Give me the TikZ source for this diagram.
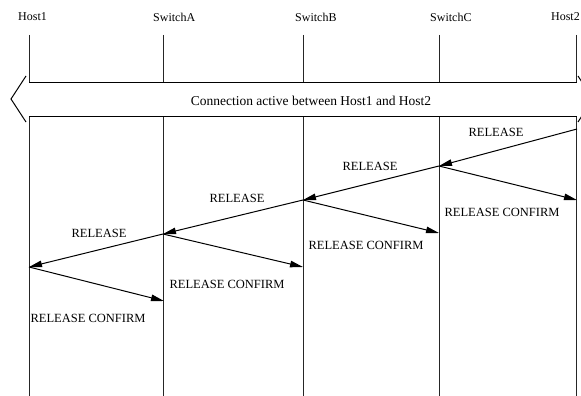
\documentclass[tikz,border=0pt]{standalone}
\usepackage{fontspec}
\setmainfont{Liberation Serif}
\usetikzlibrary{arrows.meta}
\begin{document}
\begin{tikzpicture}[x=1pt,y=-1pt,
  lbl/.style={font=\fontsize{12.5}{14}\selectfont, inner sep=0pt},
  hdr/.style={font=\fontsize{12}{14}\selectfont, inner sep=0pt, anchor=west},
  life/.style={line width=1pt, draw=black!85},
  msg/.style={line width=1pt, -{Triangle[length=13pt,width=6.5pt]}},
  band/.style={line width=1pt}]
\clip (0,0) rectangle (581,396);
\fill[white] (0,0) rectangle (581,396);
% headers
\node[hdr] (h1) at (18,17) {Host1};
\node[hdr] (ha) at (153,17) {SwitchA};
\node[hdr] (hb) at (295,17) {SwitchB};
\node[hdr] (hc) at (430,17) {SwitchC};
\node[hdr, anchor=east] (h2) at (580,17) {Host2};
% lifeline coordinates
\foreach \n/\x in {H1/29, SA/163, SB/303, SC/439, H2/576}{
  \coordinate (\n t) at (\x,35);
  \coordinate (\n u) at (\x,83);
  \coordinate (\n l) at (\x,116);
  \coordinate (\n b) at (\x,396);
  \draw[life] (\n t) -- (\n u);
  \draw[life] (\n l) -- (\n b);
}
% connection band
\coordinate (bl1) at (29,83); \coordinate (br1) at (577,83);
\coordinate (bl2) at (29,116); \coordinate (br2) at (577,116);
\draw[band] (bl1) -- (br1);
\draw[band] (bl2) -- (br2);
\coordinate (cl1) at (26,76); \coordinate (clt) at (11,99); \coordinate (cl2) at (26,122);
\coordinate (cr1) at (578,76); \coordinate (crt) at (593,99); \coordinate (cr2) at (578,122);
\draw[band] (cl1) -- (clt) -- (cl2);
\draw[band] (cr1) -- (crt) -- (cr2);
\node[lbl, font=\fontsize{13.5}{15}\selectfont] (conn) at (311,101) {Connection active between Host1 and Host2};
% events
\coordinate (e1) at (577,129);
\coordinate (e2) at (439,166);
\coordinate (e3) at (577,200);
\coordinate (e4) at (303,200);
\coordinate (e5) at (439,233);
\coordinate (e6) at (163,234);
\coordinate (e7) at (303,267);
\coordinate (e8) at (29,267);
\coordinate (e9) at (164,301);
\draw[msg] (e1) -- (e2);
\draw[msg] (e2) -- (e4);
\draw[msg] (e2) -- (e3);
\draw[msg] (e4) -- (e6);
\draw[msg] (e4) -- (e5);
\draw[msg] (e6) -- (e8);
\draw[msg] (e6) -- (e7);
\draw[msg] (e8) -- (e9);
% labels
\node[lbl] (m1) at (496,132) {RELEASE};
\node[lbl] (m2) at (370,166) {RELEASE};
\node[lbl] (m3) at (502,212) {RELEASE CONFIRM};
\node[lbl] (m4) at (237,198) {RELEASE};
\node[lbl] (m5) at (366,245) {RELEASE CONFIRM};
\node[lbl] (m6) at (99,233) {RELEASE};
\node[lbl] (m7) at (227,284) {RELEASE CONFIRM};
\node[lbl] (m8) at (88,318) {RELEASE CONFIRM};
\end{tikzpicture}
\end{document}
